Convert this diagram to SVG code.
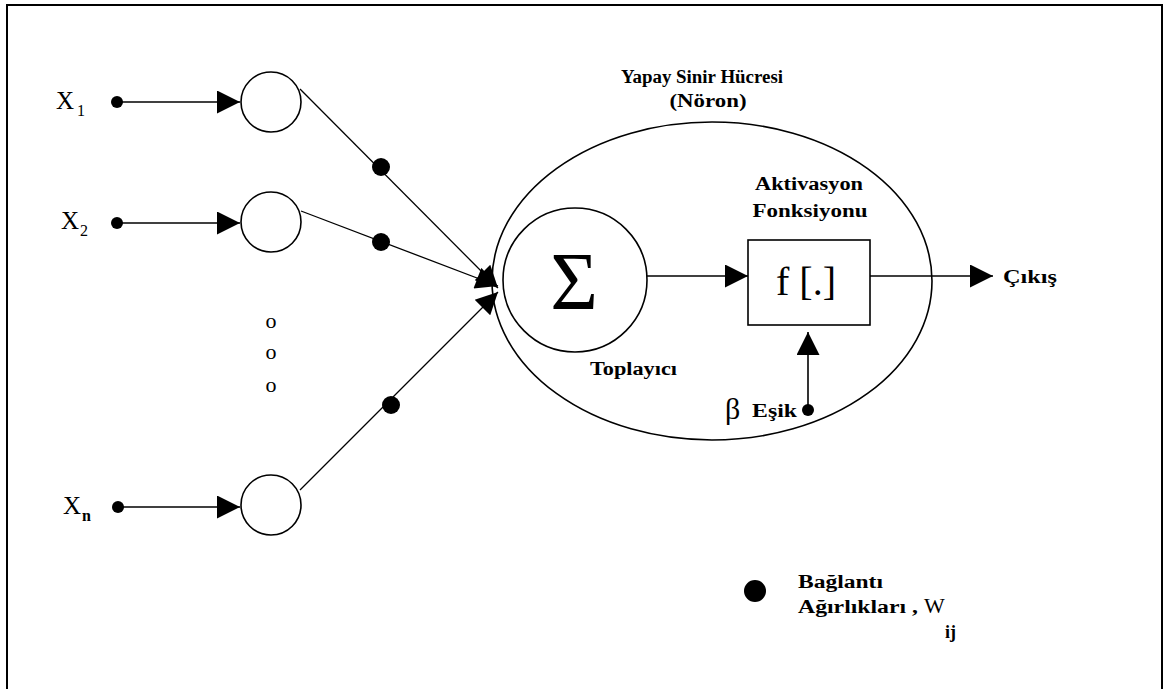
<svg xmlns="http://www.w3.org/2000/svg" width="1163" height="689" viewBox="0 0 1163 689">
<style>
.ln{stroke:#000;stroke-width:1.6;fill:none}
.thin{stroke:#000;stroke-width:1.3;fill:none}
.nd{fill:#fff;stroke:#000;stroke-width:1.6}
.dot{fill:#000}
.lbl{font-family:"Liberation Serif","Times New Roman",serif;font-weight:bold;font-size:18px;fill:#000}
.ser{font-family:"Liberation Serif","Times New Roman",serif;fill:#000}
</style>
<defs>
<marker id="ah" viewBox="0 0 10 10" refX="10" refY="5" markerUnits="userSpaceOnUse" markerWidth="23" markerHeight="23" orient="auto">
<path d="M0,0 L10,5 L0,10 z" fill="#000"/>
</marker>
<marker id="ah2" viewBox="0 0 10 10" refX="10" refY="5" markerUnits="userSpaceOnUse" markerWidth="24" markerHeight="22" orient="auto">
<path d="M0,0 L10,5 L0,10 z" fill="#000"/>
</marker>
</defs>
<rect x="0" y="0" width="1163" height="689" fill="#fff"/>
<rect x="7" y="5" width="1155" height="700" fill="none" stroke="#000" stroke-width="2"/>

<g id="neuron">
<ellipse cx="712" cy="281" rx="220" ry="159" class="ln" fill="none"/>
<text class="lbl" x="702" y="83" text-anchor="middle" textLength="162" lengthAdjust="spacingAndGlyphs">Yapay Sinir Hücresi</text>
<text class="lbl" x="708" y="107" text-anchor="middle" textLength="77" lengthAdjust="spacingAndGlyphs">(Nöron)</text>
</g>

<g id="input1">
<circle cx="271" cy="102" r="30" class="nd"/>
<circle cx="117" cy="102" r="6" class="dot"/>
<text class="ser" x="56" y="109" font-size="25">X</text>
<text class="ser" x="77" y="116" font-size="16">1</text>
</g>
<g id="input2">
<circle cx="271" cy="222" r="30" class="nd"/>
<circle cx="117" cy="223" r="6" class="dot"/>
<text class="ser" x="61" y="229" font-size="25">X</text>
<text class="ser" x="80" y="236" font-size="16">2</text>
</g>
<g id="inputn">
<circle cx="271" cy="505" r="30" class="nd"/>
<circle cx="118" cy="507" r="6" class="dot"/>
<text class="ser" x="63" y="514" font-size="25">X</text>
<text class="ser" x="82" y="521" font-size="16" font-weight="bold">n</text>
</g>
<g id="ellipsis">
<text class="ser" x="271" y="328" font-size="22" text-anchor="middle">o</text>
<text class="ser" x="271" y="359" font-size="22" text-anchor="middle">o</text>
<text class="ser" x="271" y="392" font-size="22" text-anchor="middle">o</text>
</g>

<g id="summer">
<circle cx="575" cy="280" r="72" class="nd"/>
<text class="ser" x="574" y="309" font-size="82" text-anchor="middle">Σ</text>
<text class="lbl" x="590" y="375" textLength="87" lengthAdjust="spacingAndGlyphs">Toplayıcı</text>
</g>

<g id="activation">
<rect x="748" y="240" width="122" height="85" class="nd"/>
<text class="ser" x="806" y="295" font-size="40" text-anchor="middle">f [.]</text>
<text class="lbl" x="809" y="190" text-anchor="middle" textLength="108" lengthAdjust="spacingAndGlyphs">Aktivasyon</text>
<text class="lbl" x="810" y="217" text-anchor="middle" textLength="115" lengthAdjust="spacingAndGlyphs">Fonksiyonu</text>
</g>

<g id="threshold">
<circle cx="808" cy="410" r="6" class="dot"/>
<text class="ser" x="725" y="419" font-size="30">β</text>
<text class="lbl" x="752" y="417" font-size="16" textLength="45" lengthAdjust="spacingAndGlyphs">Eşik</text>
</g>

<g id="output">
<text class="lbl" x="1003" y="283" font-size="16" textLength="54" lengthAdjust="spacingAndGlyphs">Çıkış</text>
</g>

<g id="legend">
<circle cx="755" cy="591" r="11" class="dot"/>
<text class="lbl" x="798" y="588" textLength="85" lengthAdjust="spacingAndGlyphs">Bağlantı</text>
<text class="lbl" x="798" y="613" textLength="120" lengthAdjust="spacingAndGlyphs">Ağırlıkları ,</text>
<text class="ser" x="924" y="613" font-size="22">W</text>
<text class="lbl" x="945" y="638" font-size="16">ij</text>
</g>

<g id="connectors">
<line x1="117" y1="102" x2="240" y2="102" class="ln" marker-end="url(#ah)"/>
<line x1="117" y1="223" x2="240" y2="223" class="ln" marker-end="url(#ah)"/>
<line x1="118" y1="507" x2="240" y2="507" class="ln" marker-end="url(#ah)"/>
<line x1="300" y1="89" x2="498" y2="288" class="thin" marker-end="url(#ah2)"/>
<line x1="301" y1="211" x2="498" y2="286" class="thin" marker-end="url(#ah2)"/>
<line x1="300" y1="490" x2="498" y2="292" class="thin" marker-end="url(#ah2)"/>
<circle cx="381" cy="167" r="9" class="dot"/>
<circle cx="381" cy="242" r="9" class="dot"/>
<circle cx="391" cy="405" r="9" class="dot"/>
<line x1="647" y1="276" x2="748" y2="276" class="ln" marker-end="url(#ah)"/>
<line x1="870" y1="276" x2="993" y2="276" class="ln" marker-end="url(#ah)"/>
<line x1="808" y1="410" x2="808" y2="332" class="ln" marker-end="url(#ah)"/>
</g>
</svg>
